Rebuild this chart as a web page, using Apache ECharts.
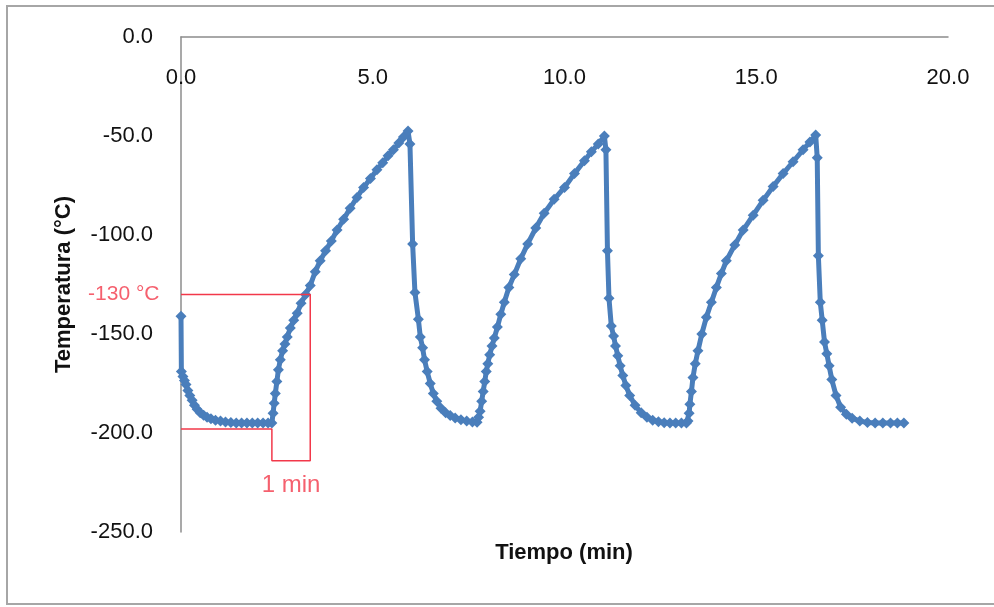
<!DOCTYPE html>
<html>
<head>
<meta charset="utf-8">
<script src="https://cdn.jsdelivr.net/npm/echarts@6/dist/echarts.min.js"></script>
<style>
  html, body { margin: 0; padding: 0; background: #fff; }
  #chart { width: 994px; height: 607px; }
</style>
</head>
<body>
<div id="chart"></div>
<script>
// Temperatura registrada durante tres ciclos de enfriamiento/calentamiento: [tiempo (min), temperatura (°C)]
const ciclo1 = [
  [0.00,-141],[0.01,-169],[0.05,-171.5],[0.09,-173.5],[0.13,-175.5],[0.18,-178.5],[0.23,-181],[0.29,-183.5],
  [0.35,-186],[0.42,-188],[0.50,-189.8],[0.59,-191],[0.68,-192],[0.78,-192.8],[0.90,-193.5],[1.03,-194],
  [1.16,-194.4],[1.30,-194.7],[1.44,-194.9],[1.58,-195],[1.72,-195],[1.86,-195],[2.00,-195],[2.14,-195],
  [2.27,-195],[2.37,-195],
  [2.40,-190],[2.43,-185],[2.46,-180],[2.50,-174],[2.54,-168],[2.59,-163],[2.65,-158.5],[2.71,-155],
  [2.77,-151.5],[2.85,-147],[2.94,-143],[3.03,-139.5],[3.13,-134.5],[3.25,-130],[3.37,-125.5],[3.50,-118.5],
  [3.63,-113],[3.77,-108],[3.92,-103],[4.07,-97.5],[4.24,-92],[4.41,-86.5],[4.59,-81],[4.76,-76],
  [4.94,-71.5],[5.11,-67],[5.26,-63.5],[5.40,-60],[5.54,-57],[5.68,-53.5],[5.80,-50.5],[5.92,-47.5],
  [5.97,-54],[6.04,-104.5],[6.10,-129],[6.19,-142.5],[6.24,-151.5],[6.30,-157],[6.35,-163],[6.42,-169],
  [6.50,-175],[6.58,-180],[6.67,-184],[6.78,-187.5],[6.90,-189.8],[7.02,-191.2],[7.15,-192.4],[7.30,-193.3],
  [7.45,-194],[7.60,-194.4],[7.72,-194.6]
];
const ciclo2 = [
  [7.76,-192],[7.80,-189],[7.84,-184],[7.88,-179],[7.92,-174],[7.96,-169],[8.00,-165],[8.05,-160.5],
  [8.11,-156],[8.17,-152],[8.25,-146.5],[8.34,-140],[8.43,-134],[8.55,-126.5],[8.69,-120],[8.86,-112],
  [9.04,-104.5],[9.25,-96.5],[9.47,-89],[9.73,-82],[10.00,-76],[10.26,-69],[10.52,-62.5],[10.70,-58],
  [10.88,-54],[11.04,-50],
  [11.08,-57],[11.12,-108],[11.16,-132],[11.22,-146],[11.28,-151],[11.33,-156],[11.39,-161],[11.45,-166],
  [11.52,-171],[11.60,-176],[11.70,-181],[11.84,-186],[12.00,-189.8],[12.15,-192],[12.30,-193.5],[12.45,-194.3],
  [12.60,-194.8],[12.75,-195],[12.90,-195],[13.05,-195],[13.18,-195]
];
const ciclo3 = [
  [13.22,-194],[13.25,-190],[13.27,-185.5],[13.31,-179],[13.35,-172],[13.41,-165],[13.48,-158.5],[13.58,-150],
  [13.70,-141.5],[13.83,-134],[13.96,-126.5],[14.09,-119.5],[14.22,-113],[14.44,-105],[14.66,-97.5],[14.92,-90],
  [15.18,-82.5],[15.44,-75.5],[15.70,-69],[15.96,-63],[16.22,-57],[16.40,-53],[16.55,-49.5],
  [16.59,-61],[16.62,-110.5],[16.67,-134],[16.72,-143],[16.78,-154],[16.84,-160],[16.90,-166],[16.97,-173],
  [17.08,-181],[17.20,-187],[17.35,-190.5],[17.50,-192.5],[17.70,-194],[17.90,-194.7],[18.10,-195],[18.30,-195],
  [18.50,-195],[18.68,-195],[18.85,-195]
];

// Recuadro rojo: nivel de -130 °C y el intervalo de 1 min
const recuadroTiempo = [0, 3.37, 3.37, 2.37, 2.37, 0];
const recuadroTemp = [-130, -130, -214, -214, -198, -198];
const etiquetaNivel = '-130 °C';
const etiquetaIntervalo = '1 min';
const posNivel = [0, -130];
const posIntervalo = [2.87, -214];

// Ejes
const ejeX = { min: 0, max: 20, interval: 5 };
const ejeY = { min: -250, max: 0, interval: 50 };

const azul = '#4a7ebb';
const rojo = '#f2384a';
const fuente = '"Liberation Sans", Arial, sans-serif';

const serieTemp = ciclo1.concat(ciclo2, ciclo3);
const recuadro = recuadroTiempo.map((t, i) => [t, recuadroTemp[i]]);

const notas = [
  {
    value: posNivel,
    label: {
      show: true, position: 'left', distance: 21,
      formatter: etiquetaNivel, color: rojo, fontSize: 21, fontFamily: fuente
    }
  },
  {
    value: posIntervalo,
    label: {
      show: true, position: 'bottom', distance: 12,
      formatter: etiquetaIntervalo, color: rojo, fontSize: 24, fontFamily: fuente
    }
  }
];

const chart = echarts.init(document.getElementById('chart'), null, { renderer: 'canvas' });
chart.setOption({
  animation: false,
  backgroundColor: '#ffffff',
  grid: { left: 181, top: 37, right: 46, bottom: 75, containLabel: false },
  xAxis: {
    type: 'value', position: 'top',
    min: ejeX.min, max: ejeX.max, interval: ejeX.interval,
    axisLine: { show: true, onZero: false, lineStyle: { color: '#8c8c8c', width: 1.5 } },
    axisTick: { show: false },
    splitLine: { show: false },
    axisLabel: {
      inside: true, margin: 30,
      formatter: v => v.toFixed(1),
      color: '#111', fontSize: 22, fontFamily: fuente,
      showMinLabel: true, showMaxLabel: true
    }
  },
  yAxis: {
    type: 'value',
    min: ejeY.min, max: ejeY.max, interval: ejeY.interval,
    name: 'Temperatura (°C)', nameLocation: 'middle', nameRotate: 90, nameGap: 106,
    nameTextStyle: { color: '#111', fontSize: 22, fontWeight: 'bold', fontFamily: fuente },
    axisLine: { show: true, onZero: false, lineStyle: { color: '#8c8c8c', width: 1.5 } },
    axisTick: { show: false },
    splitLine: { show: false },
    axisLabel: {
      margin: 28,
      formatter: v => v.toFixed(1),
      color: '#111', fontSize: 22, fontFamily: fuente
    }
  },
  graphic: [
    {
      type: 'rect', silent: true, z: -1,
      shape: { x: 7, y: 6, width: 1000, height: 598 },
      style: { fill: 'none', stroke: '#a6a6a6', lineWidth: 2 }
    },
    {
      type: 'text', silent: true,
      x: 564, y: 553,
      style: {
        text: 'Tiempo (min)', align: 'center', verticalAlign: 'middle',
        fill: '#111', font: 'bold 22px ' + fuente
      }
    }
  ],
  series: [
    {
      name: 'Temperatura', type: 'line', data: serieTemp,
      symbol: 'diamond', symbolSize: 11, showSymbol: true,
      itemStyle: { color: azul },
      lineStyle: { color: azul, width: 5 },
      z: 2
    },
    {
      name: 'Recuadro', type: 'line', data: recuadro,
      symbol: 'none', showSymbol: false,
      lineStyle: { color: rojo, width: 1.5 },
      z: 3
    },
    {
      name: 'Notas', type: 'scatter', data: notas,
      symbolSize: 1, itemStyle: { color: 'rgba(0,0,0,0)' },
      z: 3
    }
  ]
});
</script>
</body>
</html>
